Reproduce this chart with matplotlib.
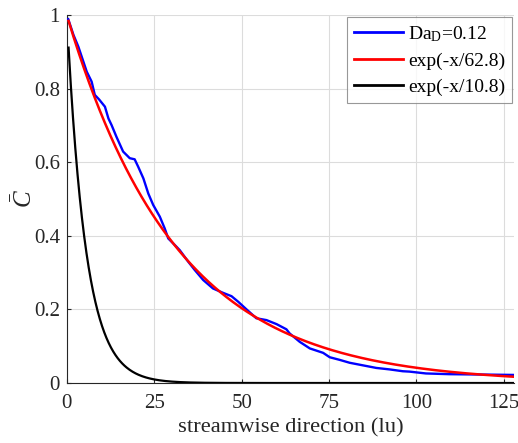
import numpy as np
import matplotlib
matplotlib.use("Agg")
import matplotlib.pyplot as plt

# blue curve (streamwise position in lu, mean concentration)
x_sim = [0.4, 1.9, 3.3, 5.7, 7.1, 8.0, 9.2, 10.9, 11.9, 12.8, 14.2, 16.1, 18.0, 19.4,
         20.4, 21.9, 23.3, 24.7, 26.6, 28.0, 29.0, 31.4, 32.3, 34.7, 36.6, 39.0, 41.8,
         44.7, 47.1, 49.0, 51.4, 54.2, 57.1, 60.0, 62.8, 63.7, 66.6, 69.5, 73.3, 75.2,
         78.0, 80.9, 84.7, 88.5, 92.3, 96.1, 98.0, 102.7, 109.4, 118.9, 127.7]
c_sim = [0.989, 0.946, 0.914, 0.846, 0.819, 0.783, 0.771, 0.751, 0.719, 0.701, 0.669,
         0.629, 0.611, 0.608, 0.588, 0.556, 0.515, 0.484, 0.452, 0.420, 0.393, 0.370,
         0.361, 0.330, 0.307, 0.280, 0.257, 0.245, 0.236, 0.221, 0.200, 0.176, 0.171,
         0.160, 0.146, 0.135, 0.112, 0.094, 0.082, 0.070, 0.063, 0.055, 0.048, 0.041,
         0.037, 0.032, 0.031, 0.026, 0.024, 0.023, 0.022]

# fitted decay lengths from the legend (in grid nodes, 2 nodes per lu)
decay = [62.8, 10.8]
labels = [r"Da$_{\mathrm{D}}$=0.12", "exp(-x/62.8)", "exp(-x/10.8)"]
nodes_per_lu = 2.0

plt.rcParams['font.family'] = ['Liberation Serif', 'DejaVu Serif']
plt.rcParams['mathtext.fontset'] = 'custom'
plt.rcParams['mathtext.rm'] = 'Liberation Serif'
plt.rcParams['mathtext.it'] = 'Liberation Serif:italic'

fig = plt.figure(figsize=(5.18, 4.43), dpi=100)
ax = fig.add_axes([0.129, 0.1354, 0.864, 0.8306])

x_fit = np.linspace(0.5, 128, 600)
ax.plot(x_sim, c_sim, color=(0, 0, 1), lw=1.7, label=labels[0], zorder=3)
ax.plot(x_fit, np.exp(-nodes_per_lu * x_fit / decay[0]), color=(1, 0, 0), lw=1.8,
        label=labels[1], zorder=4)
ax.plot(x_fit, np.exp(-nodes_per_lu * x_fit / decay[1]), color='k', lw=1.6,
        label=labels[2], zorder=5)

ax.set_xlim(0, 128)
ax.set_ylim(0, 1)
ax.set_xticks([0, 25, 50, 75, 100, 125])
ax.set_yticks([0, 0.2, 0.4, 0.6, 0.8, 1])
ax.set_yticklabels(['0', '0.2', '0.4', '0.6', '0.8', '1'])
ax.grid(True, color='#dcdcdc', lw=0.8)
ax.set_axisbelow(True)
ax.spines['top'].set_visible(False)
ax.spines['right'].set_visible(False)
ax.spines['left'].set_color('#262626')
ax.spines['bottom'].set_color('#262626')
ax.tick_params(direction='in', length=3, labelsize=15, colors='#262626')
ax.tick_params(axis='x', pad=8)
ax.tick_params(axis='y', pad=5)

ax.set_xlabel("streamwise direction (lu)", fontsize=16.2, color='#262626', labelpad=4)
ax.set_ylabel(r"$\bar{C}$", fontsize=18, color='#262626', labelpad=-2)

leg = ax.legend(loc='upper right', fontsize=14, frameon=True, fancybox=False,
                edgecolor='#7f7f7f', handlelength=2.5, handletextpad=0.3,
                borderaxespad=0.1, labelspacing=0.45, borderpad=0.35)
leg.get_frame().set_linewidth(0.8)
for h in leg.get_lines():
    h.set_linewidth(2)

fig.savefig("out.png", dpi=100)
